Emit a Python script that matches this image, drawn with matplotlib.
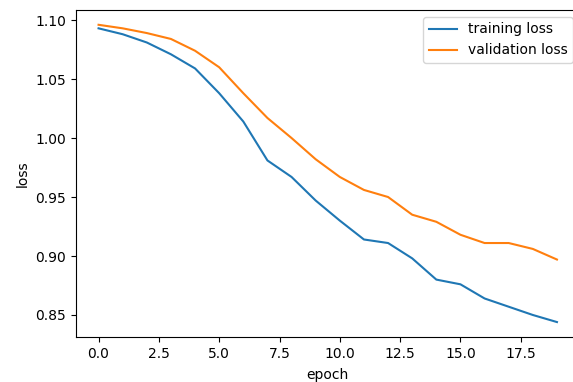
import numpy as np
import matplotlib
matplotlib.use('Agg')
import matplotlib.pyplot as plt

epochs = np.arange(20)
train_loss = [1.093, 1.088, 1.081, 1.071, 1.059, 1.038, 1.014, 0.981, 0.967, 0.947,
              0.930, 0.914, 0.911, 0.898, 0.880, 0.876, 0.864, 0.857, 0.850, 0.844]
val_loss = [1.096, 1.093, 1.089, 1.084, 1.074, 1.060, 1.038, 1.017, 1.000, 0.982,
            0.967, 0.956, 0.950, 0.935, 0.929, 0.918, 0.911, 0.911, 0.906, 0.897]

fig = plt.figure(figsize=(5.73, 3.82), dpi=100)
# right edge of the axes falls just outside the image, as in the reference
ax = fig.add_axes([0.132, 0.118, 0.880, 0.856])

ax.plot(epochs, train_loss, label='training loss')
ax.plot(epochs, val_loss, label='validation loss')
ax.set_xlabel('epoch', labelpad=5)
ax.set_ylabel('loss')
ax.legend(loc='upper right')

fig.savefig('out.png', dpi=100)
